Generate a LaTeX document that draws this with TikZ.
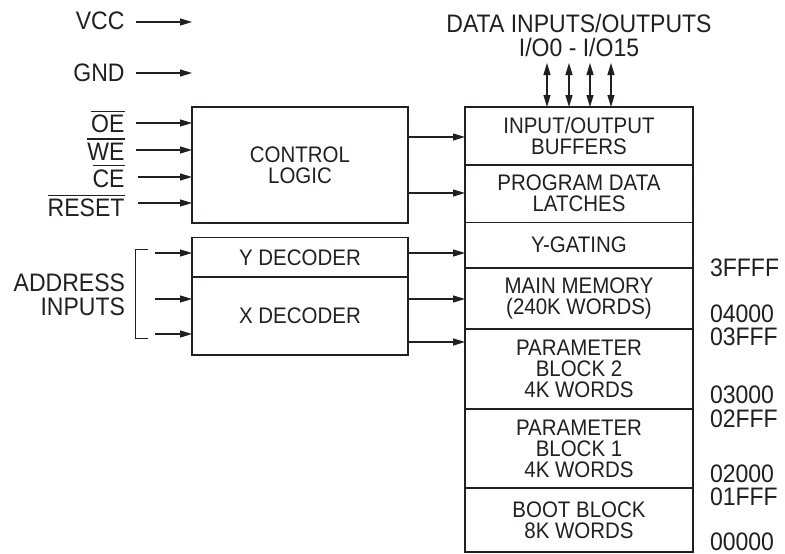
\documentclass[tikz,border=0pt]{standalone}
\usepackage{fontspec}
\setmainfont{Liberation Sans}[FakeStretch=0.91]
\usetikzlibrary{arrows.meta}
\definecolor{ink}{HTML}{231F20}
\newcommand\barred[1]{\setbox0\hbox{#1}\rlap{\rule[\dimexpr\ht0+3pt\relax]{\wd0}{1.2pt}}\box0}
\begin{document}
\begin{tikzpicture}[x=1pt,y=-1pt,
  box/.style={draw=ink, line width=1.5pt, inner sep=0pt, outer sep=0pt, align=center,
    text=ink, font=\fontsize{22.5}{21}\selectfont},
  cbox/.style={box, minimum width=216pt},
  mbox/.style={box, minimum width=228pt},
  arr/.style={draw=ink, line width=1.2pt, -{Triangle[length=12pt,width=7pt]}},
  biarr/.style={draw=ink, line width=1.2pt, {Triangle[length=12pt,width=7pt]}-{Triangle[length=12pt,width=7pt]}},
  lbl/.style={inner sep=0pt, outer sep=0pt, text=ink, font=\fontsize{25.3}{24}\selectfont}
]
\useasboundingbox (0,0) rectangle (785,554);

% ---- left boxes
\node[cbox, minimum height=116pt] (ctrl) at (300,165) {CONTROL\\LOGIC};
\node[cbox, minimum height=40pt] (yd) at (300,257.5) {Y DECODER};
\node[cbox, minimum height=78pt] (xd) at (300,316) {X DECODER};

% ---- memory column
\node[mbox, minimum height=58pt] (io) at (579,136) {INPUT/OUTPUT\\BUFFERS};
\node[mbox, minimum height=57.5pt] (pdl) at (579,193.75) {PROGRAM DATA\\LATCHES};
\node[mbox, minimum height=45.5pt] (yg) at (579,245.25) {Y-GATING};
\node[mbox, minimum height=61pt] (mm) at (579,298.5) {MAIN MEMORY\\(240K WORDS)};
\node[mbox, minimum height=80pt] (pb2) at (579,369) {PARAMETER\\BLOCK 2\\4K WORDS};
\node[mbox, minimum height=79pt] (pb1) at (579,448.5) {PARAMETER\\BLOCK 1\\4K WORDS};
\node[mbox, minimum height=64pt] (boot) at (579,520) {BOOT BLOCK\\8K WORDS};

% ---- left labels
\node[lbl, anchor=base east] (vcc) at (124.5,29.5) {VCC};
\node[lbl, anchor=base east] (gnd) at (124.5,81.5) {GND};
\node[lbl, anchor=base east] (oe) at (124.5,132.5) {\barred{OE}};
\node[lbl, anchor=base east] (we) at (124.5,160) {\barred{WE}};
\node[lbl, anchor=base east] (ce) at (124.5,187) {\barred{CE}};
\node[lbl, anchor=base east] (rst) at (124.5,216.5) {\barred{RESET}};
\node[lbl, anchor=east, align=right] (addr) at (125,295) {ADDRESS\\INPUTS};
\node[lbl, align=center] (data) at (579,35) {DATA INPUTS/OUTPUTS\\I/O0 - I/O15};

% ---- address labels
\node[lbl, anchor=base west] (a1) at (710,276) {3FFFF};
\node[lbl, anchor=base west] (a2) at (710,322) {04000};
\node[lbl, anchor=base west] (a3) at (710,345) {03FFF};
\node[lbl, anchor=base west] (a4) at (710,403) {03000};
\node[lbl, anchor=base west] (a5) at (710,427) {02FFF};
\node[lbl, anchor=base west] (a6) at (710,482) {02000};
\node[lbl, anchor=base west] (a7) at (710,505) {01FFF};
\node[lbl, anchor=base west] (a8) at (710,550) {00000};

% ---- free arrow ends
\coordinate (vccA) at (136,22);  \coordinate (vccB) at (192,22);
\coordinate (gndA) at (136,73);  \coordinate (gndB) at (192,73);
\coordinate (oeA) at (136,123);
\coordinate (weA) at (136,150);
\coordinate (ceA) at (138,177);
\coordinate (rstA) at (138,203);
\coordinate (adA) at (155,253);
\coordinate (adB) at (155,299);
\coordinate (adC) at (155,334);
\coordinate (d1) at (547,63);
\coordinate (d2) at (569,63);
\coordinate (d3) at (590,63);
\coordinate (d4) at (611,63);

\draw[arr] (vccA) -- (vccB);
\draw[arr] (gndA) -- (gndB);
\draw[arr] (oeA) -- (oeA -| ctrl.west);
\draw[arr] (weA) -- (weA -| ctrl.west);
\draw[arr] (ceA) -- (ceA -| ctrl.west);
\draw[arr] (rstA) -- (rstA -| ctrl.west);

\draw[arr] (adA) -- (adA -| yd.west);
\draw[arr] (adB) -- (adB -| xd.west);
\draw[arr] (adC) -- (adC -| xd.west);

% bracket
\draw[ink, line width=1pt] (148,249) -- (135.5,249) -- (135.5,338) -- (148,338);

% control/decoder to memory
\draw[arr] (ctrl.east |- 0,137) -- (io.west |- 0,137);
\draw[arr] (ctrl.east |- 0,193) -- (pdl.west |- 0,193);
\draw[arr] (yd.east |- 0,253) -- (yg.west |- 0,253);
\draw[arr] (xd.east |- 0,299) -- (mm.west |- 0,299);
\draw[arr] (xd.east |- 0,342) -- (pb2.west |- 0,342);

% data I/O
\draw[biarr] (d1) -- (d1 |- io.north);
\draw[biarr] (d2) -- (d2 |- io.north);
\draw[biarr] (d3) -- (d3 |- io.north);
\draw[biarr] (d4) -- (d4 |- io.north);
\end{tikzpicture}
\end{document}
